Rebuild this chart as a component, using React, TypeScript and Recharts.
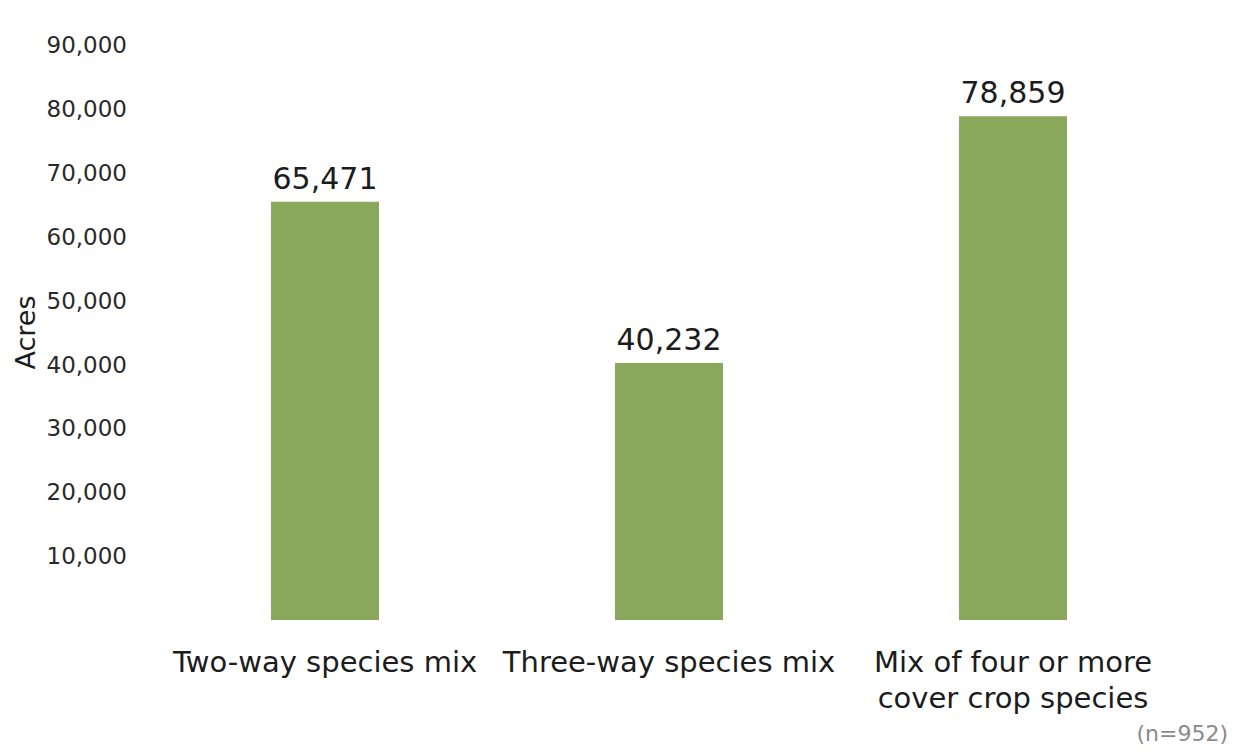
import React from "react";
import { BarChart, Bar, XAxis, YAxis, LabelList, Label } from "recharts";

const categories = [
  "Two-way species mix",
  "Three-way species mix",
  "Mix of four or more\ncover crop species",
];
const acres = [65471, 40232, 78859];
const yTicks = [10000, 20000, 30000, 40000, 50000, 60000, 70000, 80000, 90000];
const sampleNote = "(n=952)";
const yTitle = "Acres";

const data = categories.map((name, i) => ({ name, value: acres[i] }));

const FONT = '"DejaVu Sans", sans-serif';
const fmt = (v: number) => v.toLocaleString("en-US");

const CategoryTick = (props: any) => {
  const { x, y, payload } = props;
  const lines = String(payload.value).split("\n");
  return (
    <text
      x={x}
      y={y}
      textAnchor="middle"
      fill="#1c1c1c"
      fontSize={29}
      fontFamily={FONT}
    >
      {lines.map((line: string, i: number) => (
        <tspan key={i} x={x} dy={i === 0 ? 52 : 36}>
          {line}
        </tspan>
      ))}
    </text>
  );
};

const AcresLabel = (props: any) => {
  const { viewBox } = props;
  const cx = 35;
  const cy = viewBox.y + viewBox.height / 2;
  return (
    <text
      x={cx}
      y={cy}
      transform={`rotate(-90, ${cx}, ${cy})`}
      textAnchor="middle"
      fill="#1c1c1c"
      fontSize={27}
      fontFamily={FONT}
    >
      {yTitle}
    </text>
  );
};

export default function App() {
  return (
    <div
      style={{
        position: "absolute",
        left: 0,
        top: 0,
        width: 1241,
        height: 752,
        background: "#fff",
        fontFamily: FONT,
      }}
    >
      <BarChart
        width={1241}
        height={752}
        data={data}
        margin={{ top: 45, right: 56, left: 0, bottom: 32 }}
      >
        <XAxis
          dataKey="name"
          axisLine={false}
          tickLine={false}
          tickSize={0}
          tickMargin={0}
          height={100}
          interval={0}
          tick={<CategoryTick />}
        />
        <YAxis
          width={153}
          domain={[0, 90000]}
          ticks={yTicks}
          axisLine={false}
          tickLine={false}
          tickSize={0}
          tickMargin={26}
          tickFormatter={fmt}
          tick={{ fill: "#2a2a2a", fontSize: 23, fontFamily: FONT }}
        >
          <Label content={<AcresLabel />} />
        </YAxis>
        <Bar
          dataKey="value"
          fill="#8aa85c"
          barSize={108}
          isAnimationActive={false}
        >
          <LabelList
            dataKey="value"
            position="top"
            offset={13}
            formatter={(v: any) => fmt(Number(v))}
            style={{ fill: "#1c1c1c", fontSize: 30, fontFamily: FONT }}
          />
        </Bar>
      </BarChart>
      <div
        style={{
          position: "absolute",
          right: 13,
          top: 721,
          fontSize: 22,
          color: "#8a8a8a",
          fontFamily: FONT,
        }}
      >
        {sampleNote}
      </div>
    </div>
  );
}
